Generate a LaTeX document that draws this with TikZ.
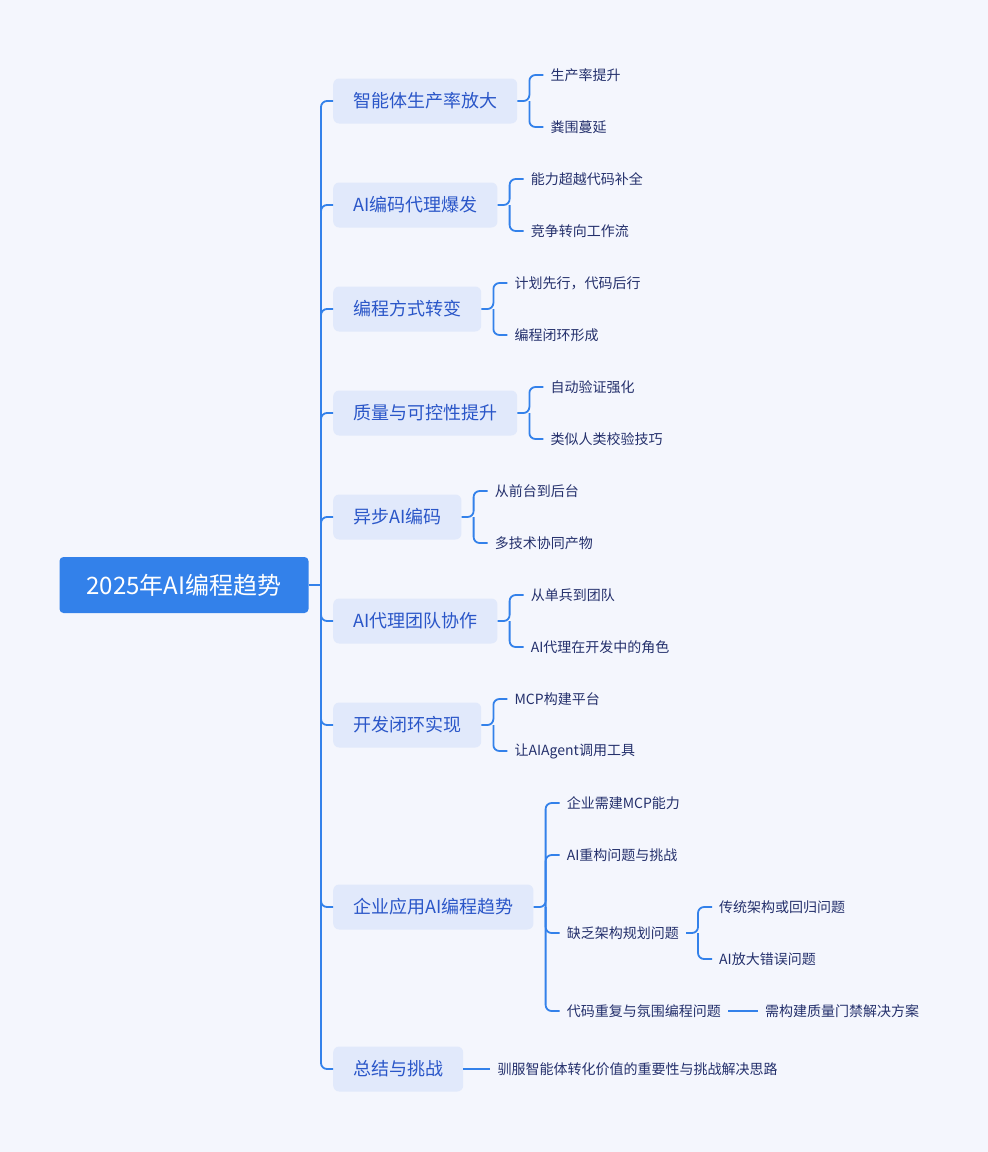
\documentclass[tikz,border=0pt]{standalone}
\usepackage{fontspec}
\setmainfont{Noto Sans CJK SC}
\usepackage{tikz}
\usetikzlibrary{arrows,positioning}
\definecolor{bgcol}{HTML}{F4F6FD}
\definecolor{linecol}{HTML}{3381EA}
\definecolor{boxcol}{HTML}{E1E9FB}
\definecolor{topcol}{HTML}{2A56C8}
\definecolor{subcol}{HTML}{24306C}

\begin{document}
\begin{tikzpicture}[x=1pt,y=-1pt]%
                    \fill[bgcol] (0,0) rectangle (988,1152); %%
                    \useasboundingbox (0,0) rectangle (988,1152); %%
                    \tikzstyle{br}=[draw=linecol,line width=1.8pt,rounded corners=6pt]
                    \tikzstyle{topic}=[fill=boxcol,text=topcol,rounded corners=6pt,anchor=west,inner xsep=20pt,minimum height=45pt,font=\fontsize{18}{22}\selectfont]
                    \tikzstyle{leaf}=[text=subcol,anchor=west,inner xsep=7pt,inner ysep=2pt,font=\fontsize{14}{17}\selectfont]
                    \begin{scope}
                        \node[fill=linecol,text=white,rounded corners=4pt,minimum width=249pt,minimum height=56pt,font=\fontsize{24}{28}\selectfont] (root) at (184,585) {2025年AI编程趋势}; %%
                    \end{scope}
                    \begin{scope}
                        \tikzstyle{every node}=[topic]
                        \node (b1) at (333,101)  {智能体生产率放大}; %%
                        \node (b2) at (333,205)  {AI编码代理爆发}; %%
                        \node (b3) at (333,309)  {编程方式转变}; %%
                        \node (b4) at (333,413)  {质量与可控性提升}; %%
                        \node (b5) at (333,517)  {异步AI编码}; %%
                        \node (b6) at (333,621)  {AI代理团队协作}; %%
                        \node (b7) at (333,725)  {开发闭环实现}; %%
                        \node (b8) at (333,907)  {企业应用AI编程趋势}; %%
                        \node (b9) at (333,1069) {总结与挑战}; %%
                    \end{scope}
                    % trunk
                        \coordinate (t0) at (321,585); %%
                        \draw[br] (root.east) -- (t0); %%
                        \foreach \b in {b1,b2,b3,b4,b5,b6,b7,b8,b9}
                            \draw[br] (t0) |- (\b.west); %%
                    % brackets
                        \foreach \b in {1,...,8}
                            \coordinate (k\b) at ([xshift=12pt]b\b.east); %%
                    \begin{scope}
                        \tikzstyle{every node}=[leaf]
                        \node (c11) at ([shift={(14,-26)}]k1) {生产率提升}; %%
                        \node (c12) at ([shift={(14,26)}]k1)  {粪围蔓延}; %%
                        \node (c21) at ([shift={(14,-26)}]k2) {能力超越代码补全}; %%
                        \node (c22) at ([shift={(14,26)}]k2)  {竞争转向工作流}; %%
                        \node (c31) at ([shift={(14,-26)}]k3) {计划先行，代码后行}; %%
                        \node (c32) at ([shift={(14,26)}]k3)  {编程闭环形成}; %%
                        \node (c41) at ([shift={(14,-26)}]k4) {自动验证强化}; %%
                        \node (c42) at ([shift={(14,26)}]k4)  {类似人类校验技巧}; %%
                        \node (c51) at ([shift={(14,-26)}]k5) {从前台到后台}; %%
                        \node (c52) at ([shift={(14,26)}]k5)  {多技术协同产物}; %%
                        \node (c61) at ([shift={(14,-26)}]k6) {从单兵到团队}; %%
                        \node (c62) at ([shift={(14,26)}]k6)  {AI代理在开发中的角色}; %%
                        \node (c71) at ([shift={(14,-26)}]k7) {MCP构建平台}; %%
                        \node (c72) at ([shift={(14,26)}]k7)  {让AIAgent调用工具}; %%
                        \node (c81) at ([shift={(14,-104)}]k8) {企业需建MCP能力}; %%
                        \node (c82) at ([shift={(14,-52)}]k8)  {AI重构问题与挑战}; %%
                        \node (c83) at ([shift={(14,26)}]k8)   {缺乏架构规划问题}; %%
                        \node (c84) at ([shift={(14,104)}]k8)  {代码重复与氛围编程问题}; %%
                        \coordinate (k83) at ([xshift=12pt]c83.east); %%
                        \node (d831) at ([shift={(14,-26)}]k83) {传统架构或回归问题}; %%
                        \node (d832) at ([shift={(14,26)}]k83)  {AI放大错误问题}; %%
                        \node[right=30pt of c84] (d841) {需构建质量门禁解决方案}; %%
                        \node[right=27pt of b9] (c91) {驯服智能体转化价值的重要性与挑战解决思路}; %%
                    \end{scope}
                        \foreach \b in {1,...,7} {
                            \draw[br] (b\b.east) -- (k\b) |- (c\b1.west); %%
                            \draw[br] (k\b) |- (c\b2.west); %%
                        }
                        \draw[br] (b8.east) -- (k8) |- (c81.west); %%
                        \draw[br] (k8) |- (c82.west); %%
                        \draw[br] (k8) |- (c83.west); %%
                        \draw[br] (k8) |- (c84.west); %%
                        \draw[br] (c83.east) -- (k83) |- (d831.west); %%
                        \draw[br] (k83) |- (d832.west); %%
                        \draw[br] (c84) -- (d841); %%
                        \draw[br] (b9) -- (c91); %%
                    \end{tikzpicture}
\end{document}
